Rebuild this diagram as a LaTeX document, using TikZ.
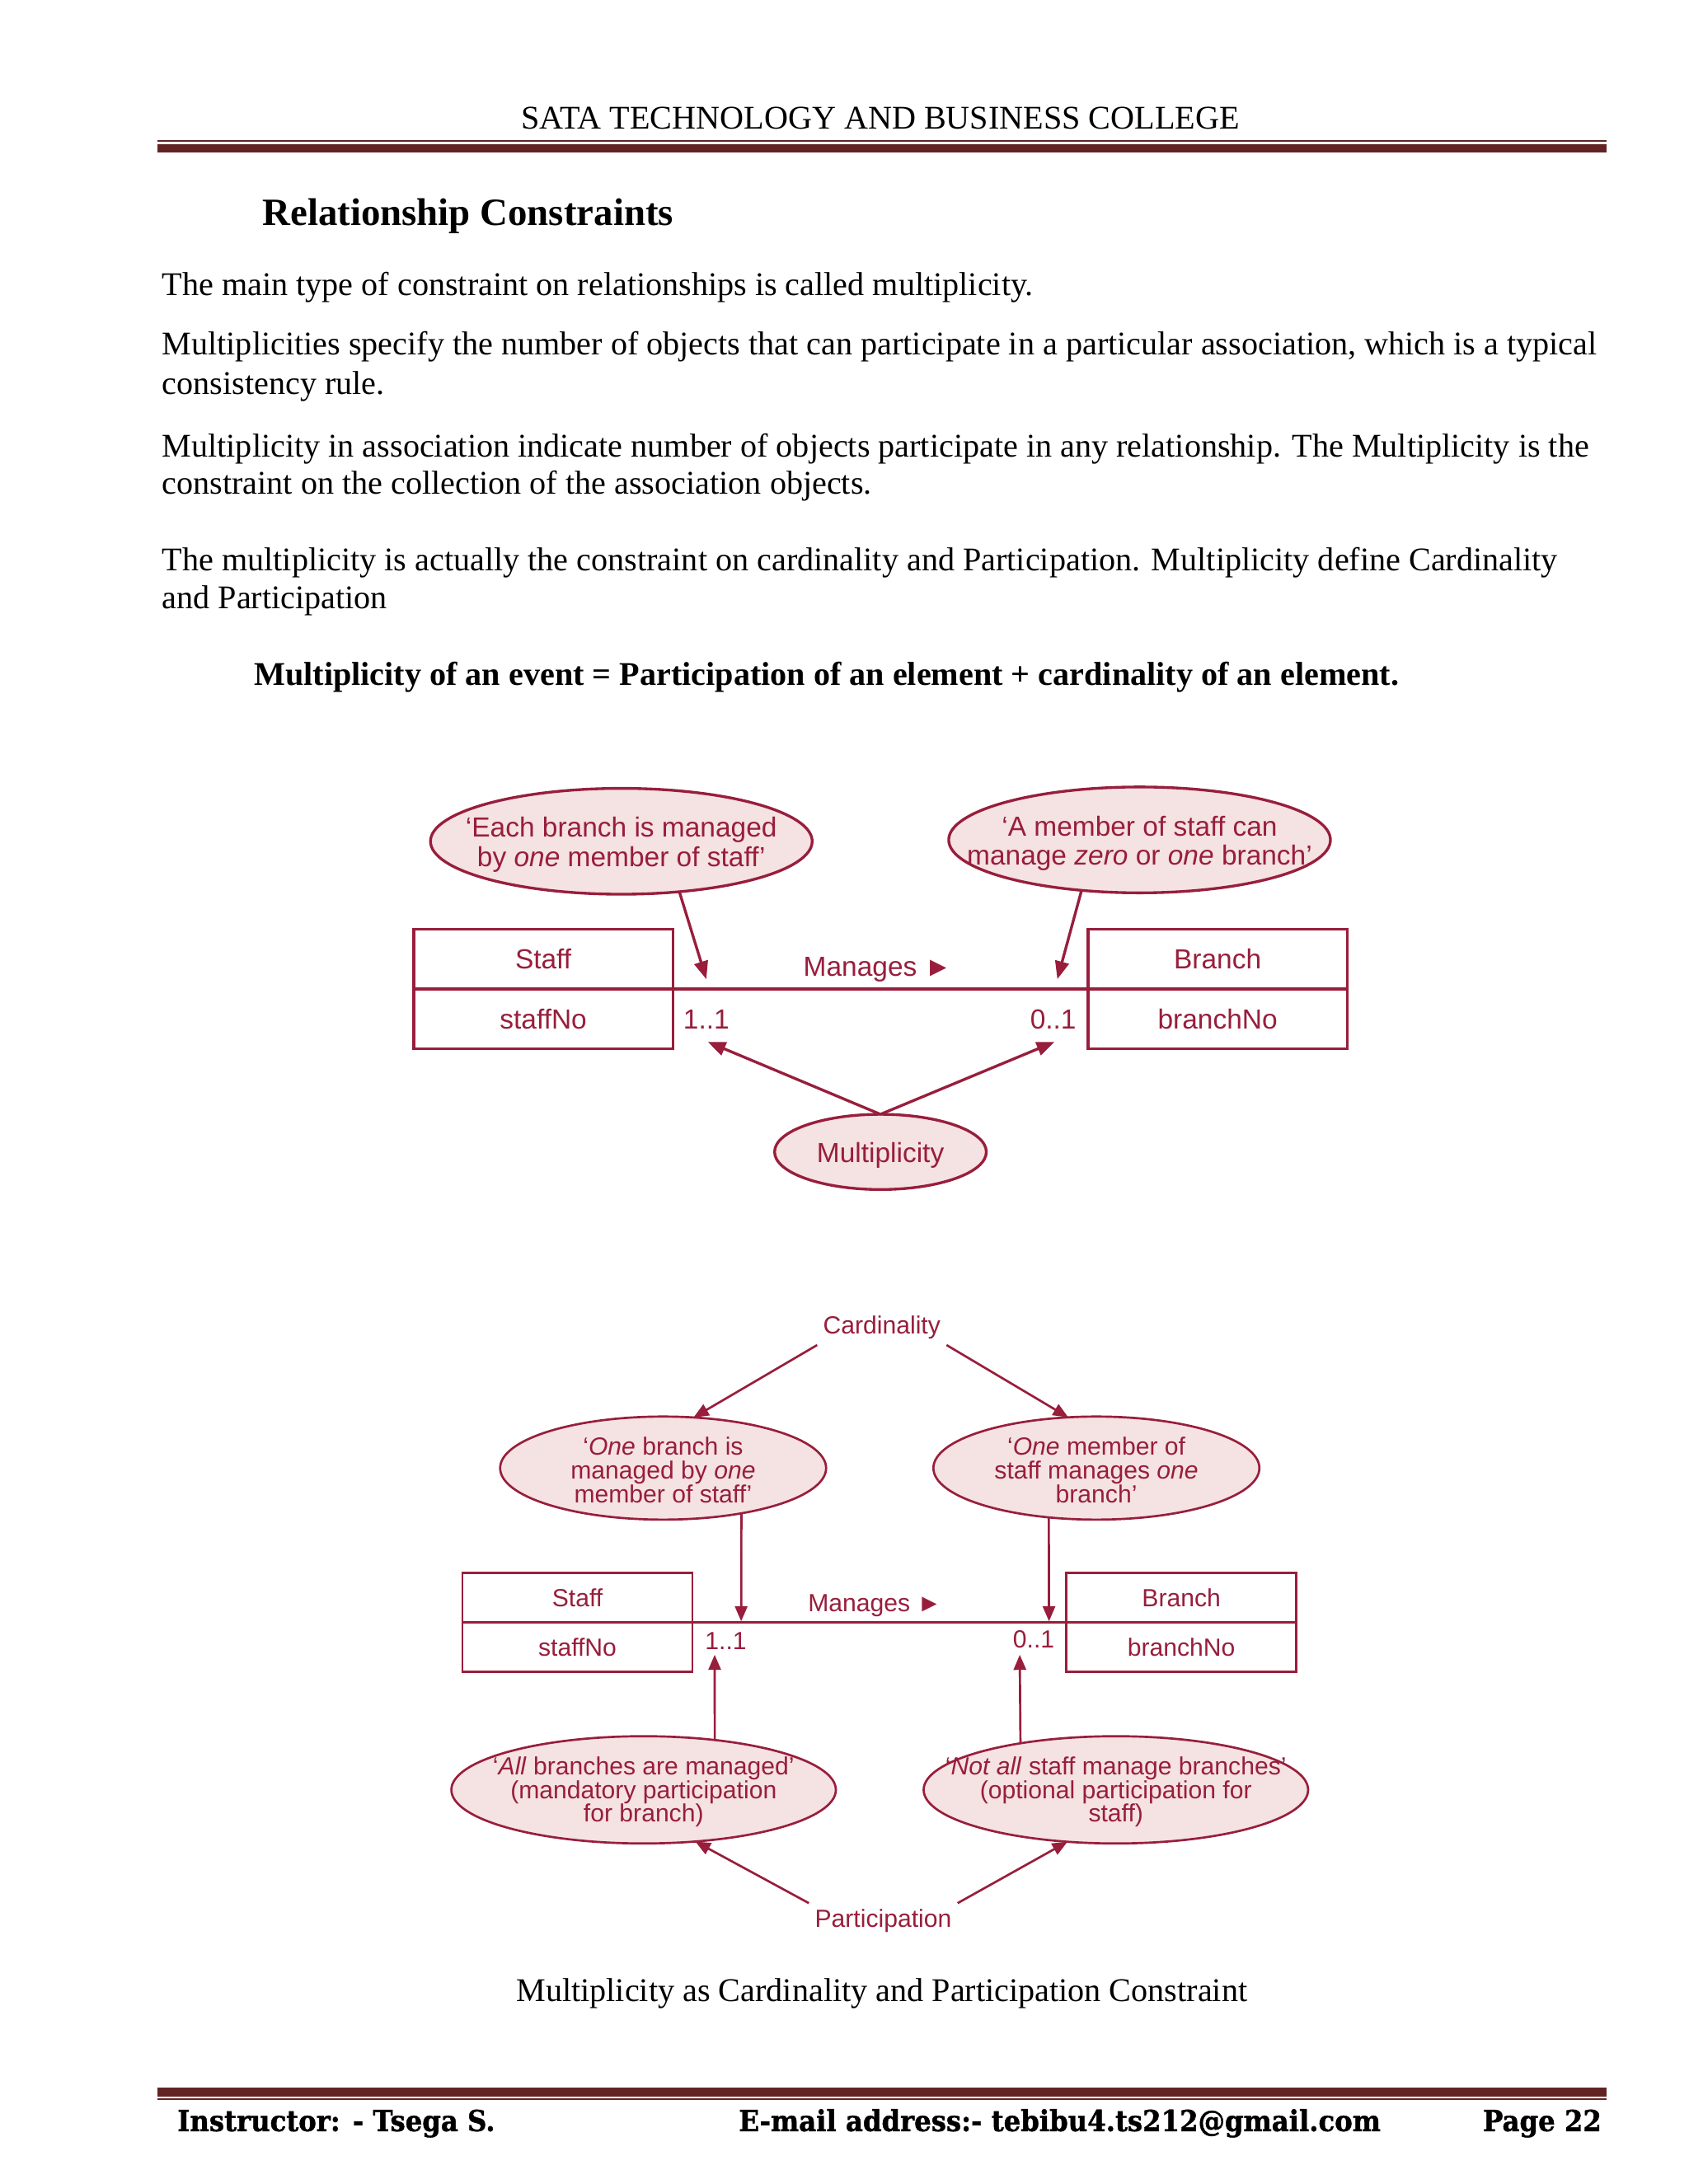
\documentclass[tikz,border=0pt]{standalone}
\usepackage{fontspec}
\setmainfont{Liberation Serif}
\newfontfamily\diagfont{Liberation Sans}
\newfontfamily\footfont[FakeStretch=0.92,BoldFeatures={FakeBold=1.2}]{DejaVu Serif}
\usetikzlibrary{arrows.meta,shapes.geometric,positioning}
\definecolor{rule}{RGB}{98,36,35}
\definecolor{crim}{RGB}{152,30,60}
\definecolor{blush}{RGB}{245,226,226}
\newdimen\pxu \pxu=0.505pt

\begin{document}
\begin{tikzpicture}[x=0.505pt,y=-0.505pt,
    txt/.style={anchor=base west,inner sep=0,font=\fontsize{12}{14}\selectfont},
    foot/.style={anchor=base west,inner sep=0,font=\footfont\bfseries\fontsize{10.5}{12}\selectfont},
    ell/.style={ellipse,draw=crim,fill=blush,inner sep=0,outer sep=0},
    etxtA/.style={text=crim,align=center,inner sep=0,yshift=-1.2pt,font=\diagfont\fontsize{10}{10.6}\selectfont},
    etxtB/.style={text=crim,align=center,inner sep=0,yshift=-.8pt,font=\diagfont\fontsize{9}{8.6}\selectfont},
    clsA/.style={draw=crim,line width=1pt,minimum width=186\pxu,minimum height=43\pxu,inner sep=0,outer sep=0,text=crim,font=\diagfont\fontsize{10}{12}\selectfont},
    clsB/.style={draw=crim,line width=.8pt,minimum width=165\pxu,minimum height=35.5\pxu,inner sep=0,outer sep=0,text=crim,font=\diagfont\fontsize{9}{11}\selectfont},
    lblA/.style={text=crim,inner sep=0,font=\diagfont\fontsize{10}{12}\selectfont},
    lblB/.style={text=crim,inner sep=2pt,font=\diagfont\fontsize{9}{11}\selectfont},
    arrA/.style={crim,line width=1pt,-{Triangle[length=6.5pt,width=5pt]}},
    arrB/.style={crim,line width=.8pt,-{Triangle[length=5.5pt,width=4.5pt]}}]
  \fill[white] (0,0) rectangle (1212,1568);
  \useasboundingbox (0,0) rectangle (1212,1568);

  % page header
  \node[anchor=base,inner sep=0,font=\fontsize{12}{14}\selectfont] (college) at (632,92.5) {SATA TECHNOLOGY AND BUSINESS COLLEGE};
  \draw[rule,line width=.7pt] (113,101) -- (1153,101);
  \draw[rule,line width=2.9pt] (113,106.6) -- (1153,106.6);

  % text
  \node[txt,font=\bfseries\fontsize{14}{16}\selectfont] (head) at (188,162) {Relationship Constraints};
  \node[txt] (l1) at (116,212) {The main type of constraint on relationships is called multiplicity.};
  \node[txt] (l2) at (116,255) {Multiplicities specify the number of objects that can participate in a particular association, which is a typical};
  \node[txt] (l3) at (116,283) {consistency rule.};
  \node[txt] (l4) at (116,328) {Multiplicity in association indicate number of objects participate in any relationship. The Multiplicity is the};
  \node[txt] (l5) at (116,355) {constraint on the collection of the association objects.};
  \node[txt] (l6) at (116,410) {The multiplicity is actually the constraint on cardinality and Participation. Multiplicity define Cardinality};
  \node[txt] (l7) at (116,437) {and Participation};
  \node[txt,font=\bfseries\fontsize{12}{14}\selectfont] (formula) at (182,492) {Multiplicity of an event = Participation of an element + cardinality of an element.};

  % multiplicity diagram
  \node[ell,line width=1pt,minimum width=274\pxu,minimum height=76\pxu,
    label={[etxtA]center:{‘Each branch is managed\\by \textit{one} member of staff’}}] (each) at (446,604) {};
  \node[ell,line width=1pt,minimum width=274\pxu,minimum height=76\pxu,
    label={[etxtA]center:{‘A member of staff can\\manage \textit{zero} or \textit{one} branch’}}] (amem) at (818,603) {};
  \node[clsA] (staffA) at (390,688.5) {Staff};
  \node[clsA,below=0pt of staffA] (staffNoA) {staffNo};
  \node[clsA] (branchA) at (874,688.5) {Branch};
  \node[clsA,below=0pt of branchA] (branchNoA) {branchNo};
  \draw[crim,line width=1pt] (staffNoA.north east) -- (branchNoA.north west);
  \node[lblA] (managesA) at (630,696) {Manages ►};
  \node[lblA] (oneA) at (507,732) {1..1};
  \node[lblA] (zeroA) at (756,732) {0..1};
  \node[ell,line width=1pt,minimum width=152\pxu,minimum height=54\pxu,
    label={[etxtA]center:Multiplicity}] (mult) at (632,827) {};
  \coordinate (eachTip) at (507,703);
  \coordinate (amemTip) at (759,703);
  \coordinate (oneTip) at (508,748);
  \coordinate (zeroTip) at (757,748);
  \draw[arrA] (each.-41) -- (eachTip);
  \draw[arrA] (amem.-139) -- (amemTip);
  \draw[arrA] (mult.north) -- (oneTip);
  \draw[arrA] (mult.north) -- (zeroTip);

  % cardinality and participation diagram
  \node[lblB] (card) at (633,953) {Cardinality};
  \node[ell,line width=.8pt,minimum width=234\pxu,minimum height=74\pxu,
    label={[etxtB]center:{‘\textit{One} branch is\\managed by \textit{one}\\member of staff’}}] (oneBr) at (476,1054) {};
  \node[ell,line width=.8pt,minimum width=234\pxu,minimum height=74\pxu,
    label={[etxtB]center:{‘\textit{One} member of\\staff manages \textit{one}\\branch’}}] (oneMem) at (787,1054) {};
  \node[clsB] (staffB) at (414.5,1147) {Staff};
  \node[clsB,below=0pt of staffB] (staffNoB) {staffNo};
  \node[clsB] (branchB) at (848,1147) {Branch};
  \node[clsB,below=0pt of branchB] (branchNoB) {branchNo};
  \draw[crim,line width=.8pt] (staffNoB.north east) -- (branchNoB.north west);
  \node[lblB,inner sep=0] (managesB) at (628,1153) {Manages ►};
  \node[lblB,inner sep=0] (oneB) at (521,1178) {1..1};
  \node[lblB,inner sep=0] (zeroB) at (742,1177) {0..1};
  \node[ell,line width=.8pt,minimum width=276\pxu,minimum height=77\pxu,
    label={[etxtB]center:{‘\textit{All} branches are managed’\\(mandatory participation\\for branch)}}] (allBr) at (462,1285) {};
  \node[ell,line width=.8pt,minimum width=276\pxu,minimum height=77\pxu,
    label={[etxtB]center:{‘\textit{Not all} staff manage branches’\\(optional participation for\\staff)}}] (notAll) at (801,1285) {};
  \node[lblB] (part) at (634,1379) {Participation};
  \coordinate (oneBrTip) at (532,1164);
  \coordinate (oneMemTip) at (753,1164);
  \coordinate (allBrTip) at (513,1188);
  \coordinate (notAllTip) at (732,1188);
  \draw[arrB] (card.south west) -- (oneBr.59);
  \draw[arrB] (card.south east) -- (oneMem.119);
  \draw[arrB] (oneBr.-30) -- (oneBrTip);
  \draw[arrB] (oneMem.-134) -- (oneMemTip);
  \draw[arrB] (allBr.35) -- (allBrTip);
  \draw[arrB] (notAll.154) -- (notAllTip);
  \draw[arrB] (part.north west) -- (allBr.-45);
  \draw[arrB] (part.north east) -- (notAll.-133);

  \node[anchor=base,inner sep=0,font=\fontsize{12}{14}\selectfont] (caption) at (633,1437) {Multiplicity as Cardinality and Participation Constraint};

  % page footer
  \draw[rule,line width=3pt] (113,1502) -- (1153,1502);
  \draw[rule,line width=.8pt] (113,1507) -- (1153,1507);
  \node[foot] (instr) at (127,1530) {Instructor: - Tsega S.};
  \node[foot] (mail) at (530,1530) {E-mail address:- tebibu4.ts212@gmail.com};
  \node[foot,anchor=base east] (page) at (1150,1530) {Page 22};
\end{tikzpicture}
\end{document}
